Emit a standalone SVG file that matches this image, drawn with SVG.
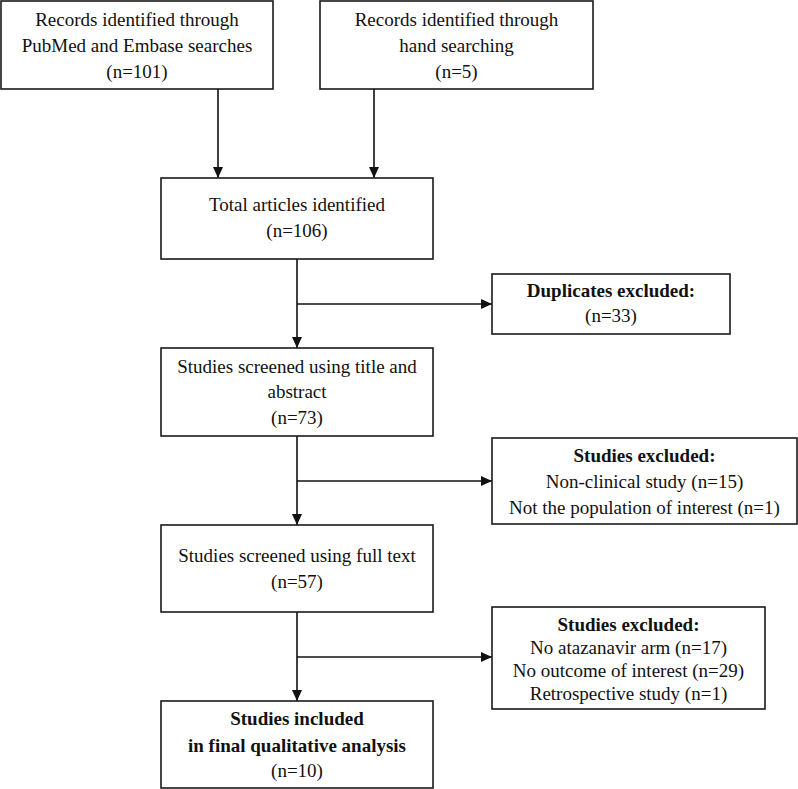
<svg xmlns="http://www.w3.org/2000/svg" width="798" height="789" viewBox="0 0 798 789">
<defs>
<marker id="ah" markerUnits="userSpaceOnUse" markerWidth="11" markerHeight="10" refX="11" refY="5" orient="auto">
<path d="M0,0 L11,5 L0,10 z" fill="#111"/>
</marker>
<style>
.box{fill:#fff;stroke:#1a1a1a;stroke-width:1.6}
.t{font-family:"Liberation Serif","Times New Roman",serif;font-size:19px;fill:#111;text-anchor:middle}
.b{font-weight:bold}
.c{stroke:#111;stroke-width:1.6;fill:none}
</style>
</defs>
<rect width="798" height="789" fill="#fff"/>
<g id="connectors">
<line class="c" x1="218" y1="89" x2="218" y2="178" marker-end="url(#ah)"/>
<line class="c" x1="374" y1="89" x2="374" y2="178" marker-end="url(#ah)"/>
<line class="c" x1="297" y1="259" x2="297" y2="348" marker-end="url(#ah)"/>
<line class="c" x1="297" y1="304" x2="492" y2="304" marker-end="url(#ah)"/>
<line class="c" x1="297" y1="436" x2="297" y2="525" marker-end="url(#ah)"/>
<line class="c" x1="297" y1="481" x2="492" y2="481" marker-end="url(#ah)"/>
<line class="c" x1="297" y1="612" x2="297" y2="701" marker-end="url(#ah)"/>
<line class="c" x1="297" y1="657" x2="492" y2="657" marker-end="url(#ah)"/>
</g>
<g id="n1">
<rect class="box" x="1" y="1" width="272" height="88"/>
<text class="t" x="137" y="26">Records identified through</text>
<text class="t" x="137" y="52">PubMed and Embase searches</text>
<text class="t" x="137" y="78">(n=101)</text>
</g>
<g id="n2">
<rect class="box" x="320" y="1" width="273" height="88"/>
<text class="t" x="456.5" y="26">Records identified through</text>
<text class="t" x="456.5" y="52">hand searching</text>
<text class="t" x="456.5" y="78">(n=5)</text>
</g>
<g id="n3">
<rect class="box" x="161" y="178" width="272" height="81"/>
<text class="t" x="297" y="211">Total articles identified</text>
<text class="t" x="297" y="237">(n=106)</text>
</g>
<g id="n4">
<rect class="box" x="492" y="274" width="238" height="60"/>
<text class="t b" x="611" y="297">Duplicates excluded:</text>
<text class="t" x="611" y="322">(n=33)</text>
</g>
<g id="n5">
<rect class="box" x="161" y="348" width="272" height="88"/>
<text class="t" x="297" y="373">Studies screened using title and</text>
<text class="t" x="297" y="398">abstract</text>
<text class="t" x="297" y="424">(n=73)</text>
</g>
<g id="n6">
<rect class="box" x="492" y="438" width="305" height="86"/>
<text class="t b" x="644.5" y="462">Studies excluded:</text>
<text class="t" x="644.5" y="488">Non-clinical study (n=15)</text>
<text class="t" x="644.5" y="514">Not the population of interest (n=1)</text>
</g>
<g id="n7">
<rect class="box" x="161" y="525" width="272" height="87"/>
<text class="t" x="297" y="562">Studies screened using full text</text>
<text class="t" x="297" y="588">(n=57)</text>
</g>
<g id="n8">
<rect class="box" x="492" y="607" width="273" height="102"/>
<text class="t b" x="628.5" y="631">Studies excluded:</text>
<text class="t" x="628.5" y="654">No atazanavir arm (n=17)</text>
<text class="t" x="628.5" y="677">No outcome of interest (n=29)</text>
<text class="t" x="628.5" y="700">Retrospective study (n=1)</text>
</g>
<g id="n9">
<rect class="box" x="161" y="701" width="272" height="87"/>
<text class="t b" x="297" y="725">Studies included</text>
<text class="t b" x="297" y="752">in final qualitative analysis</text>
<text class="t" x="297" y="777">(n=10)</text>
</g>
</svg>
